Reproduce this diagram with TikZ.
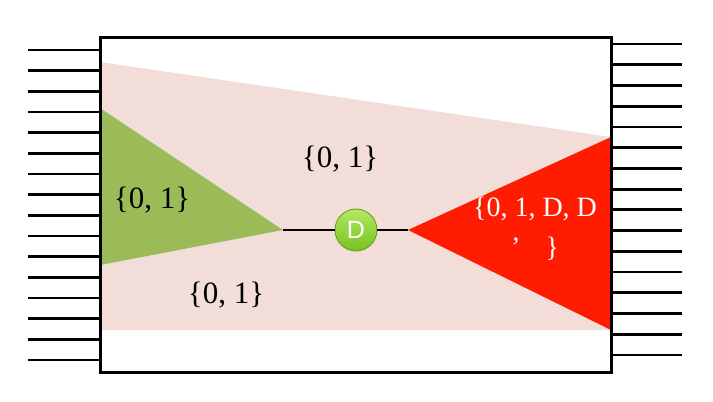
\documentclass[tikz,border=0pt]{standalone}
\usepackage{fontspec}
\setmainfont{Liberation Serif}
\setsansfont{Liberation Sans}
\definecolor{pinkbg}{RGB}{242,221,217}
\definecolor{olivegreen}{RGB}{155,187,89}
\definecolor{hotred}{RGB}{255,28,0}
\definecolor{balltop}{RGB}{180,232,100}
\definecolor{ballbottom}{RGB}{118,194,32}

\begin{document}
\begin{tikzpicture}[x=1pt,y=-1pt,
  lead/.style={line width=2.8pt},
  setlabel/.style={font=\fontsize{31}{34}\selectfont,inner sep=0pt}]
\useasboundingbox (0,0) rectangle (713,402);
\foreach \i in {0,...,15} {
\pgfmathsetmacro{\yl}{50+\i*20.67}
\draw[lead] (28,\yl) -- (100,\yl);
\pgfmathsetmacro{\yr}{44+\i*20.73}
\draw[lead] (612,\yr) -- (682,\yr);
}
\fill[pinkbg] (100,62) -- (611,137) -- (611,330) -- (100,330) -- cycle;
\coordinate (gtip) at (283,230);
\coordinate (rtip) at (408,230);
\fill[olivegreen] (100,108) -- (gtip) -- (100,265) -- cycle;
\fill[hotred] (611,137) -- (rtip) -- (611,330) -- cycle;
\node[circle,minimum size=42pt,inner sep=0pt,top color=balltop,bottom color=ballbottom,
  draw=ballbottom!80!black,line width=0.8pt,text=white,font=\sffamily\fontsize{25}{25}\selectfont] (dball) at (356,230) {D};
\draw[line width=2.8pt] (gtip) -- (dball) -- (rtip);
\draw[line width=3pt] (100,37) rectangle (611,372);
\node[setlabel] (toplabel) at (340,159) {\{0, 1\}};
\node[setlabel] (greenlabel) at (152,200) {\{0, 1\}};
\node[setlabel] (lowlabel) at (226,295) {\{0, 1\}};
\node[text=white,align=center,font=\fontsize{28}{40}\selectfont,inner sep=0pt]
  (redlabel) at (535,229) {\{0, 1, D, D\\’\hspace{0.9em}\}};
\end{tikzpicture}
\end{document}
